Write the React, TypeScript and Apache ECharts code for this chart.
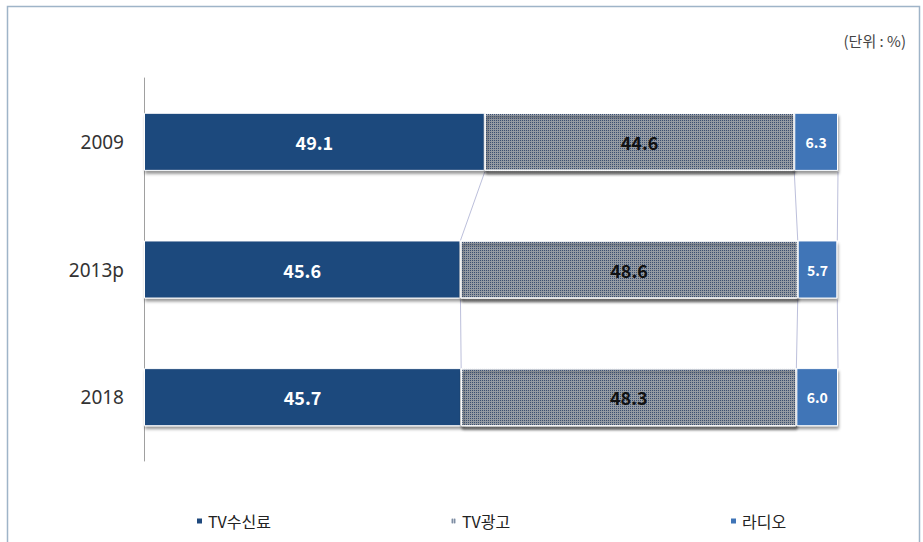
import React, { useEffect, useRef } from "react";
import * as echarts from "echarts";

const categories = ["2009", "2013p", "2018"];
const tvFee = [49.1, 45.6, 45.7];
const tvAd = [44.6, 48.6, 48.3];
const radio = [6.3, 5.7, 6.0];
const seriesNames = ["TV수신료", "TV광고", "라디오"];
const unitLabel = "(단위 : %)";

const FONT = "'Noto Sans CJK KR', 'Noto Sans', sans-serif";

export default function App() {
  const ref = useRef<HTMLDivElement>(null);
  useEffect(() => {
    if (!ref.current) return;
    const chart = echarts.init(ref.current, undefined, { renderer: "svg" });

    // series-line connectors between consecutive bars at cumulative boundaries
    const cum = categories.map((_, i) => [
      tvFee[i],
      tvFee[i] + tvAd[i],
      tvFee[i] + tvAd[i] + radio[i],
    ]);
    const connectors: number[][] = [];
    for (let i = 0; i < categories.length - 1; i++) {
      for (let k = 0; k < 3; k++) {
        connectors.push([Math.min(cum[i][k], 100), i, Math.min(cum[i + 1][k], 100), i + 1]);
      }
    }

    const barWidthRatio = 0.455;
    const shadow = {
      shadowColor: "rgba(0,0,0,0.4)",
      shadowBlur: 3,
      shadowOffsetY: 3,
      shadowOffsetX: 1,
    };
    const fmt = (p: any) => Number(p.value).toFixed(1);

    chart.setOption({
      animation: false,
      backgroundColor: "#ffffff",
      textStyle: { fontFamily: FONT },
      grid: { left: 144, right: 85, top: 78, bottom: 81 },
      xAxis: {
        type: "value",
        min: 0,
        max: 100,
        show: false,
      },
      yAxis: {
        type: "category",
        data: categories,
        inverse: true,
        axisLine: { show: true, lineStyle: { color: "#a0a0a0", width: 1 } },
        axisTick: { show: false },
        axisLabel: {
          fontSize: 19,
          color: "#333",
          margin: 20,
          fontFamily: "'Noto Sans', sans-serif",
        },
      },
      legend: [0, 1, 2].map((k) => ({
        data: [seriesNames[k]],
        left: [190, 444, 724][k],
        top: 508,
        icon: "rect",
        itemWidth: 7,
        itemHeight: 7,
        itemGap: 5,
        textStyle: { fontSize: 16, color: "#222", fontFamily: FONT },
      })),
      graphic: [
        {
          type: "rect",
          shape: { x: 7.5, y: 6.5, width: 912, height: 545 },
          style: { fill: "none", stroke: "#9fb4c8", lineWidth: 1.5 },
          silent: true,
        },
        {
          type: "text",
          right: 17,
          top: 33,
          style: {
            text: unitLabel,
            fontSize: 15,
            fill: "#444",
            fontFamily: FONT,
          },
        },
      ],
      series: [
        {
          name: seriesNames[0],
          type: "bar",
          stack: "total",
          barWidth: barWidthRatio * 100 + "%",
          data: tvFee,
          itemStyle: { color: "#1f497d", borderColor: "#ffffff", borderWidth: 1, ...shadow },
          label: {
            show: true,
            position: "inside",
            color: "#ffffff",
            fontWeight: "bold",
            fontSize: 18,
            fontFamily: FONT,
            formatter: fmt,
          },
        },
        {
          name: seriesNames[1],
          type: "bar",
          stack: "total",
          data: tvAd,
          itemStyle: {
            color: "#c3cbd6",
            borderColor: "#ffffff",
            borderWidth: 1,
            ...shadow,
            decal: {
              symbol: "rect",
              symbolSize: 1,
              dashArrayX: [1, 1],
              dashArrayY: [1, 1],
              color: "#3a5070",
              rotation: 0,
            },
          },
          label: {
            show: true,
            position: "inside",
            color: "#111111",
            fontWeight: "bold",
            fontSize: 18,
            fontFamily: FONT,
            formatter: fmt,
          },
        },
        {
          name: seriesNames[2],
          type: "bar",
          stack: "total",
          data: radio,
          itemStyle: { color: "#3f74b7", borderColor: "#ffffff", borderWidth: 1, ...shadow },
          label: {
            show: true,
            position: "inside",
            color: "#ffffff",
            fontWeight: "bold",
            fontSize: 14,
            fontFamily: FONT,
            formatter: fmt,
          },
        },
        {
          type: "custom",
          silent: true,
          z: 1,
          data: connectors,
          renderItem: (_params: any, api: any) => {
            const p1 = api.coord([api.value(0), api.value(1)]);
            const p2 = api.coord([api.value(2), api.value(3)]);
            const band = api.size([0, 1])[1];
            const half = (band * barWidthRatio) / 2;
            return {
              type: "line",
              shape: { x1: p1[0], y1: p1[1] + half + 1, x2: p2[0], y2: p2[1] - half },
              style: { stroke: "#bcbfdb", lineWidth: 1 },
            };
          },
        },
      ],
    });
    return () => chart.dispose();
  }, []);
  return (
    <div
      ref={ref}
      style={{ position: "absolute", left: 0, top: 0, width: 923, height: 542 }}
    />
  );
}
